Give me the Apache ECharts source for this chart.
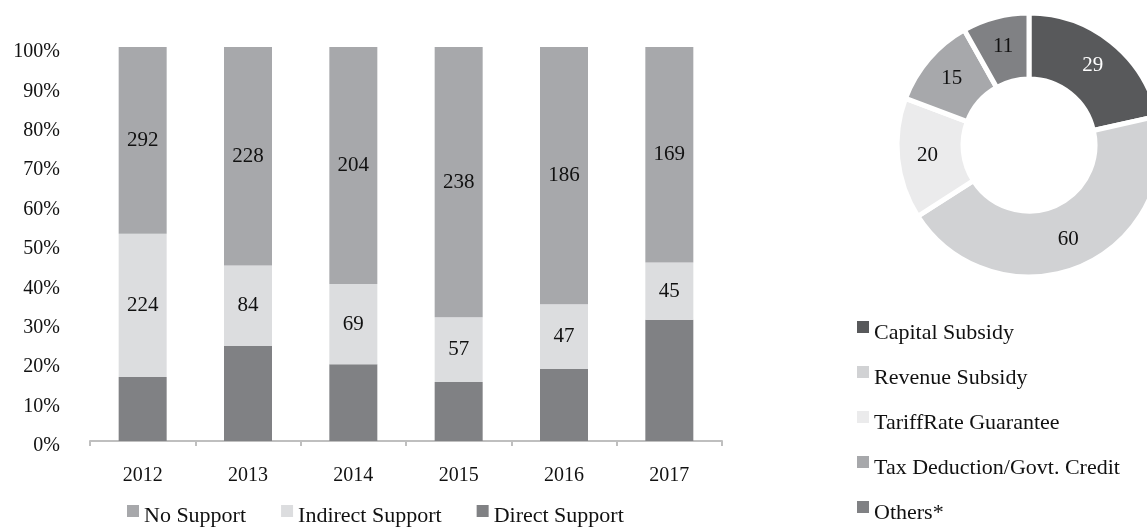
<!DOCTYPE html>
<html>
<head>
<meta charset="utf-8">
<script src="https://cdn.jsdelivr.net/npm/echarts@6/dist/echarts.min.js"></script>
<style>
  html, body { margin: 0; padding: 0; background: #fff; }
  #chart { width: 1147px; height: 530px; }
</style>
</head>
<body>
<div id="chart"></div>
<script>
// data
const years = ["2012", "2013", "2014", "2015", "2016", "2017"];
const noSupport = [292, 228, 204, 238, 186, 169];
const indirectSupport = [224, 84, 69, 57, 47, 45];
const directSupport = [100, 99, 66, 52, 52, 95]; // not labelled

const pieNames = ["Capital Subsidy", "Revenue Subsidy", "TariffRate Guarantee", "Tax Deduction/Govt. Credit", "Others*"];
const pieValues = [29, 60, 20, 15, 11];
const pieColors = ["#58595b", "#d1d2d4", "#ebebec", "#a7a8ab", "#808184"];

const font = "Liberation Serif";

// 100% stacked: share of each year's total
const totals = years.map((y, i) => noSupport[i] + indirectSupport[i] + directSupport[i]);
const pct = (arr) => arr.map((v, i) => ({ value: (v / totals[i]) * 100, raw: v }));

const chart = echarts.init(document.getElementById("chart"));

const barLabel = {
  show: true,
  position: "inside",
  color: "#111",
  fontFamily: font,
  fontSize: 21,
  formatter: (p) => p.data.raw,
};

// legend text sits a bit lower than its square, like the excel original
const legendText = (pad) => ({
  fontFamily: font,
  fontSize: 22,
  color: "#111",
  rich: { a: { fontFamily: font, fontSize: 22, color: "#111", padding: [pad, 0, 0, 0] } },
});

chart.setOption({
  animation: false,
  textStyle: { fontFamily: font },
  grid: { left: 90, right: 425, top: 47, bottom: 89 },
  legend: [
    {
      data: ["No Support", "Indirect Support", "Direct Support"],
      left: 127,
      top: 505,
      padding: 0,
      itemWidth: 12,
      itemHeight: 12,
      itemGap: 35,
      icon: "rect",
      itemStyle: { borderWidth: 0 },
      formatter: "{a|{name}}",
      textStyle: legendText(10),
    },
    {
      data: pieNames,
      orient: "vertical",
      left: 857,
      top: 321,
      padding: 0,
      itemWidth: 12,
      itemHeight: 12,
      itemGap: 22,
      icon: "rect",
      itemStyle: { borderWidth: 0 },
      formatter: "{a|{name}}",
      textStyle: legendText(12),
    },
  ],
  xAxis: {
    type: "category",
    data: years,
    axisLine: { lineStyle: { color: "#bfbfbf", width: 2 } },
    axisTick: { show: true, length: 5, lineStyle: { color: "#bfbfbf", width: 2 } },
    axisLabel: { color: "#111", fontFamily: font, fontSize: 20, margin: 25 },
  },
  yAxis: {
    type: "value",
    min: 0,
    max: 100,
    interval: 10,
    axisLine: { show: false },
    axisTick: { show: false },
    splitLine: { show: false },
    axisLabel: {
      formatter: "{value}%",
      color: "#111",
      fontFamily: font,
      fontSize: 20,
      margin: 30,
      verticalAlign: "top",
      lineHeight: 10,
    },
  },
  series: [
    {
      name: "Direct Support",
      type: "bar",
      stack: "all",
      barWidth: 48,
      itemStyle: { color: "#808184" },
      data: pct(directSupport),
    },
    {
      name: "Indirect Support",
      type: "bar",
      stack: "all",
      barWidth: 48,
      itemStyle: { color: "#dcdddf" },
      label: barLabel,
      data: pct(indirectSupport),
    },
    {
      name: "No Support",
      type: "bar",
      stack: "all",
      barWidth: 48,
      itemStyle: { color: "#a7a8ab" },
      label: barLabel,
      data: pct(noSupport),
    },
    {
      type: "pie",
      center: [1029, 145],
      radius: [66, 132],
      startAngle: 90,
      clockwise: true,
      itemStyle: { borderColor: "#fff", borderWidth: 5 },
      label: {
        show: true,
        position: "inside",
        fontFamily: font,
        fontSize: 21,
        color: "#111",
        formatter: "{c}",
      },
      labelLine: { show: false },
      emphasis: { disabled: true },
      data: pieNames.map((n, i) => ({
        name: n,
        value: pieValues[i],
        itemStyle: { color: pieColors[i] },
        label: i === 0 ? { color: "#fff" } : undefined,
      })),
    },
  ],
});
</script>
</body>
</html>
